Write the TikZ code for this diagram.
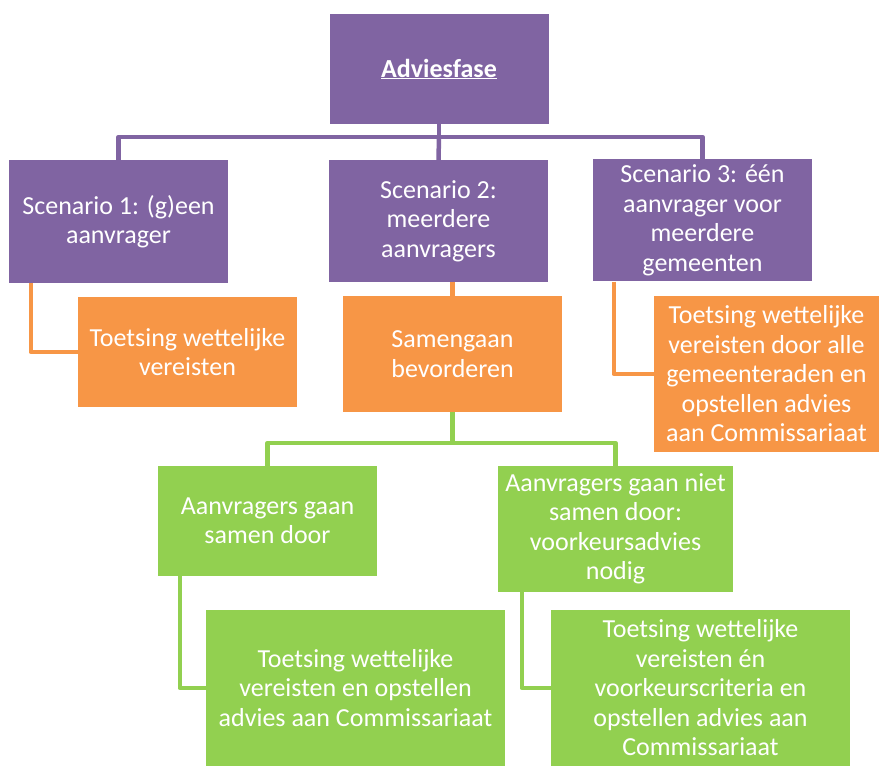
\documentclass[tikz,border=0pt]{standalone}
\usepackage{fontspec}
\setmainfont{Carlito}
\definecolor{advpurple}{HTML}{8064A2}
\definecolor{advorange}{HTML}{F79646}
\definecolor{advgreen}{HTML}{92D050}
\tikzset{
  box/.style={rectangle, inner sep=0pt, align=center, text=white,
    font=\fontsize{26}{29.5}\selectfont},
  pbox/.style={box, fill=advpurple},
  obox/.style={box, fill=advorange},
  gbox/.style={box, fill=advgreen},
  pline/.style={draw=advpurple, line width=4.5pt, line join=round},
  oline/.style={draw=advorange, line width=4.5pt, line join=round},
  gline/.style={draw=advgreen, line width=4.5pt, line join=round}
}
\begin{document}
\begin{tikzpicture}[x=1pt, y=-1pt]
\useasboundingbox (0,0) rectangle (879,767);
\node[pbox, minimum width=219, minimum height=110] (fase) at (439,69){\textbf{\underline{Adviesfase}}};
\node[pbox, minimum width=219, minimum height=123] (sc1) at (118.5,221.5){Scenario 1: (g)een\\aanvrager};
\node[pbox, minimum width=219, minimum height=122] (sc2) at (438.5,221){Scenario 2:\\meerdere\\aanvragers};
\node[pbox, minimum width=219, minimum height=122] (sc3) at (702.5,220.5){Scenario 3: één\\aanvrager voor\\meerdere\\gemeenten};
\coordinate (pbus) at (439,137);
\draw[pline] (fase.south) -- (pbus) -| (sc1.north);
\draw[pline] (pbus) -| (sc3.north);
\draw[pline] (pbus) -- (sc2.north);
\node[obox, minimum width=219, minimum height=110] (or1) at (187.5,352){Toetsing wettelijke\\vereisten};
\node[obox, minimum width=219, minimum height=116] (or2) at (452.5,354){Samengaan\\bevorderen};
\node[obox, minimum width=225, minimum height=156] (or3) at (766.5,374){Toetsing wettelijke\\vereisten door alle\\gemeenteraden en\\opstellen advies\\aan Commissariaat};
\draw[oline] (sc1.south west) ++(22,0) |- (or1.west);
\draw[oline] (or2.north) -- (or2.north |- sc2.south);
\draw[oline] (sc3.south west) ++(21,0) |- (or3.west);
\node[gbox, minimum width=219, minimum height=110] (gr1) at (267.5,521){Aanvragers gaan\\samen door};
\node[gbox, minimum width=235, minimum height=126] (gr2) at (615.5,529){Aanvragers gaan niet\\samen door:\\voorkeursadvies\\nodig};
\coordinate (gbus) at (452.5,443);
\draw[gline] (or2.south) -- (gbus) -| (gr1.north);
\draw[gline] (gbus) -| (gr2.north);
\node[gbox, minimum width=299, minimum height=156] (gr3) at (355.5,688){Toetsing wettelijke\\vereisten en opstellen\\advies aan Commissariaat};
\node[gbox, minimum width=299, minimum height=156] (gr4) at (700.5,688){Toetsing wettelijke\\vereisten én\\voorkeurscriteria en\\opstellen advies aan\\Commissariaat};
\draw[gline] (gr1.south west) ++(22,0) |- (gr3.west);
\draw[gline] (gr2.south west) ++(24,0) |- (gr4.west);
\end{tikzpicture}
\end{document}
